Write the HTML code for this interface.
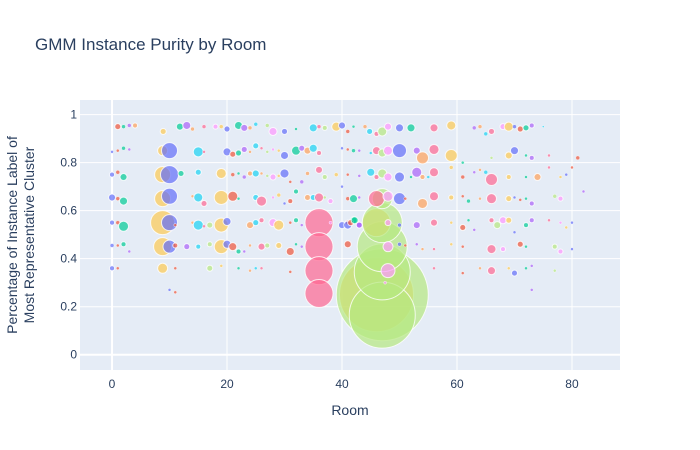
<!DOCTYPE html>
<html><head><meta charset="utf-8"><style>
body{margin:0;background:#fff;}
svg{display:block;font-family:"Liberation Sans",Arial,sans-serif;}
</style></head><body>
<svg id="chart" width="700" height="450">
<rect x="0" y="0" width="700" height="450" fill="#fff"/>
<rect x="80" y="100" width="540" height="270" fill="#E5ECF6"/>
<g id="grid"></g>
<g id="marks"></g>
<g id="ticks"></g>
<text x="35" y="50" font-size="17" fill="#2a3f5f">GMM Instance Purity by Room</text>
<text x="350" y="415" font-size="14" fill="#2a3f5f" text-anchor="middle">Room</text>
<text transform="translate(17,235) rotate(-90)" font-size="14" fill="#2a3f5f" text-anchor="middle"><tspan x="0" dy="0">Percentage of Instance Label of</tspan><tspan x="0" dy="17">Most Representative Cluster</tspan></text>
</svg>
<script>
const xTicks=[0,20,40,60,80];
const yTicks=[0,0.2,0.4,0.6,0.8,1];
const yTickLabels=["0","0.2","0.4","0.6","0.8","1"];
const palette=["#636efa","#EF553B","#00cc96","#ab63fa","#FFA15A","#19d3f3","#FF6692","#B6E880","#FF97FF","#FECB52"];
// [room, purity, markerDiameter, colorIndex]
const points=[
[46,0.25,74,9],[47,0.25,92,7],[47,0.165,66,7],[47,0.345,56,7],[47,0.45,50,7],[46,0.55,28,9],[47,0.55,40,7],[47,0.65,20,7],
[36,0.55,28,6],[36,0.45,28,6],[36,0.35,28,6],[36,0.255,28,6],
[8.8,0.55,24,9],[8.8,0.45,18,9],[8.8,0.65,16,9],[8.8,0.75,16,9],[8.8,0.36,10,9],[8.8,0.85,10,9],
[10,0.85,16,0],[10,0.75,18,0],[10,0.66,16,0],[10,0.55,16,0],[10,0.45,13,0],
[1,0.95,6,1],[2,0.95,4,2],[3,0.955,4,3],[4,0.955,5,4],[8.9,0.93,6,9],[11.8,0.95,7,2],[13,0.955,8,3],[14,0.94,4,4],[16,0.95,4,6],[18,0.95,5,8],[19,0.95,4,9],[20,0.94,6,0],[22,0.955,8,2],[23,0.945,7,3],[24,0.945,4,4],[25,0.96,4,5],[27,0.955,4,7],[28,0.93,8,8],[30,0.93,6,0],[32,0.94,3,2],[35,0.945,8,5],[36,0.95,4,6],[37,0.945,5,7],[39,0.95,9,9],[40,0.955,7,0],[41,0.93,4,1],
[42,0.95,3,2],[44,0.95,4,4],[44.8,0.93,6,5],[46,0.92,5,6],[47,0.93,9,7],[48,0.95,7,8],[50,0.945,8,0],[52,0.945,8,2],[56,0.945,8,6],[59,0.955,9,9],[63,0.945,4,3],[64,0.95,4,4],[65,0.92,4,5],[66,0.93,6,6],[68,0.95,6,8],[69,0.95,9,9],[70,0.95,4,0],[71,0.94,6,1],[72,0.945,6,2],[73,0.955,5,3],[75,0.95,2,5],
[0,0.845,3,0],[1,0.85,3,1],[2,0.86,4,2],[3,0.855,3,3],[15,0.845,10,5],[16,0.845,3,6],[20,0.845,8,0],[21,0.835,6,1],[22,0.84,6,2],[23,0.855,6,3],[24,0.845,3,4],[25,0.87,6,5],[26,0.86,3,6],[27,0.845,3,7],[28,0.855,3,8],[29,0.85,3,9],[30,0.83,8,0],[32,0.85,9,2],[33,0.86,6,3],[34,0.85,7,4],[35,0.86,8,5],[36,0.84,5,6],[40,0.86,3,0],[41,0.855,3,1],[42,0.85,4,2],
[43,0.85,3,3],[45,0.84,3,5],[46,0.85,8,6],[47,0.84,8,7],[48,0.85,9,8],[50,0.85,14,0],[53,0.85,7,3],[54,0.82,12,4],[56,0.855,10,6],[59,0.83,12,9],[61,0.8,3,2],[66,0.82,3,7],[69,0.83,7,9],[70,0.85,8,0],[72,0.83,3,2],[73,0.82,5,3],[76,0.83,3,6],[81,0.82,4,1],
[0,0.75,5,0],[1,0.76,4,1],[2,0.74,7,2],[12,0.755,6,2],[15,0.76,6,5],[19,0.755,10,9],[21,0.75,4,1],[22,0.755,3,2],[23,0.74,4,3],[24,0.755,5,4],[25,0.755,7,5],[26,0.755,3,4],[27,0.745,3,7],[28,0.74,6,8],[29,0.745,3,9],[30,0.755,9,0],[31,0.72,3,1],[33,0.72,4,3],[34,0.755,4,4],[36,0.77,7,6],[37,0.74,5,7],[39,0.75,4,9],[41,0.75,3,1],[43,0.745,3,3],
[45,0.76,8,5],[46,0.74,5,6],[47,0.755,9,7],[48,0.74,8,8],[50,0.74,10,0],[52,0.74,3,2],[53,0.76,10,3],[54,0.74,5,4],[55,0.74,3,5],[56,0.76,9,6],[59,0.78,4,9],[61,0.74,4,1],[63,0.76,3,3],[64,0.77,3,4],[65,0.76,4,5],[66,0.73,12,6],[69,0.74,5,9],[72,0.74,3,2],[74,0.74,7,4],[76,0.78,3,6],[78,0.74,3,9],[79,0.75,3,0],[80,0.78,3,1],
[0,0.655,7,0],[1,0.65,4,1],[2,0.64,8,2],[14,0.66,3,4],[15,0.655,9,5],[16,0.63,6,6],[19,0.655,14,9],[21,0.66,10,1],[22,0.65,3,2],[25,0.655,6,5],[26,0.64,10,6],[28,0.655,3,8],[29,0.665,4,9],[30,0.63,3,0],[31,0.64,5,1],[32,0.68,5,2],[34,0.655,6,4],[35,0.655,6,5],[36,0.655,9,6],[37,0.655,3,7],[38,0.64,5,8],[40,0.7,3,0],[41,0.65,4,1],[42,0.65,8,2],
[43,0.655,3,3],[46,0.65,16,6],[48,0.66,10,8],[50,0.65,12,0],[51,0.65,3,1],[54,0.63,10,4],[56,0.66,9,6],[59,0.655,5,9],[61,0.66,3,1],[62,0.64,4,2],[64,0.65,3,4],[66,0.65,10,6],[69,0.65,6,9],[70,0.655,3,0],[71,0.645,3,1],[72,0.65,3,2],[73,0.63,5,3],[77,0.66,4,7],[78,0.65,5,8],[82,0.68,3,3],
[0,0.55,5,0],[1,0.55,4,1],[2,0.535,10,2],[11,0.54,3,1],[14,0.55,3,4],[15,0.54,10,5],[16,0.535,3,6],[17,0.54,6,7],[19,0.54,14,9],[20,0.555,8,0],[24,0.54,7,4],[25,0.55,6,5],[26,0.56,5,6],[28,0.55,8,8],[29,0.54,10,9],[31,0.55,3,1],[32,0.56,5,2],[33,0.54,3,3],[38,0.55,3,8],[40,0.54,7,0],[41,0.55,5,1],[42,0.56,7,2],[43,0.54,6,3],
[41,0.54,8,0],[41.5,0.55,6,1],[42.2,0.56,7,2],[43,0.54,6,3],[48,0.55,6,8],[50,0.54,4,0],[53,0.54,7,3],[56,0.55,7,6],[59,0.55,3,9],[61,0.53,6,1],[62,0.56,3,2],[63,0.52,3,3],[66,0.56,5,6],[67,0.54,7,7],[68,0.56,7,8],[69,0.56,6,9],[70,0.51,3,0],[72,0.54,5,2],[73,0.56,5,3],[76,0.56,3,6],[78,0.55,3,8],[79,0.53,3,9],[80,0.55,3,0],
[0,0.455,4,0],[1,0.455,3,1],[2,0.46,5,2],[3,0.43,3,3],[11,0.455,5,1],[13,0.45,6,3],[15,0.45,5,5],[17,0.46,5,7],[19,0.45,14,9],[20,0.46,8,0],[21,0.45,8,1],[22,0.43,5,2],[23,0.43,3,3],[24,0.455,3,4],[26,0.45,7,6],[27,0.455,5,7],[29,0.455,6,9],[31,0.43,8,1],[32,0.46,3,2],[33,0.45,3,3],
[41,0.46,7,1],[48,0.45,10,8],[50,0.46,4,0],[51,0.455,3,1],[53,0.46,3,3],[54,0.44,3,4],[56,0.44,3,6],[59,0.46,3,9],[61,0.45,3,1],[66,0.44,9,6],[68,0.44,5,8],[71,0.46,6,1],[72,0.45,3,2],[77,0.45,5,7],[78,0.43,5,8],[80,0.44,3,0],
[0,0.36,5,0],[1,0.36,3,1],[11,0.36,3,1],[17,0.36,6,7],[19,0.37,3,9],[22,0.36,3,2],[24,0.35,3,4],[25,0.36,3,5],[26,0.36,3,6],[31,0.345,3,1],
[48,0.35,14,8],[56,0.36,3,6],[61,0.34,3,1],[64,0.36,3,4],[66,0.35,8,6],[69,0.36,3,9],[70,0.34,6,0],[72,0.36,3,2],[73,0.37,3,3],[77,0.35,3,7],
[10,0.27,3,0],[11,0.26,3,1],[47.5,0.3,3,8],[73,0.27,3,3]
];
const X0=80,X1=620,Y0=370,Y1=100;
const xMin=-5.57,xMax=88.35,yMin=-0.0637,yMax=1.061;
function sx(v){return X0+(v-xMin)/(xMax-xMin)*(X1-X0);}
function sy(v){return Y0-(v-yMin)/(yMax-yMin)*(Y0-Y1);}
const NS="http://www.w3.org/2000/svg";
const grid=document.getElementById('grid'),marks=document.getElementById('marks'),ticks=document.getElementById('ticks');
xTicks.forEach(function(t){
  const l=document.createElementNS(NS,'line');
  l.setAttribute('x1',sx(t));l.setAttribute('x2',sx(t));l.setAttribute('y1',Y1);l.setAttribute('y2',Y0);
  l.setAttribute('stroke','#fff');l.setAttribute('stroke-width',t===0?2:1);
  
  
  grid.appendChild(l);
  const tx=document.createElementNS(NS,'text');
  tx.setAttribute('x',sx(t));tx.setAttribute('y',Y0+18);tx.setAttribute('text-anchor','middle');
  tx.setAttribute('font-size','12');tx.setAttribute('fill','#2a3f5f');tx.textContent=String(t);
  
  
  ticks.appendChild(tx);
});
yTicks.forEach(function(t,i){
  const l=document.createElementNS(NS,'line');
  l.setAttribute('x1',X0);l.setAttribute('x2',X1);l.setAttribute('y1',sy(t));l.setAttribute('y2',sy(t));
  l.setAttribute('stroke','#fff');l.setAttribute('stroke-width',t===0?2:1);
  
  
  grid.appendChild(l);
  const tx=document.createElementNS(NS,'text');
  tx.setAttribute('x',X0-3);tx.setAttribute('y',sy(t)+4);tx.setAttribute('text-anchor','end');
  tx.setAttribute('font-size','12');tx.setAttribute('fill','#2a3f5f');tx.textContent=yTickLabels[i];
  
  
  ticks.appendChild(tx);
});
points.forEach(function(p){
  const c=document.createElementNS(NS,'circle');
  c.setAttribute('cx',sx(p[0]));c.setAttribute('cy',sy(p[1]));c.setAttribute('r',p[2]/2);
  c.setAttribute('fill',palette[p[3]]);c.setAttribute('fill-opacity','0.7');
  c.setAttribute('stroke','#fff');c.setAttribute('stroke-width',p[2]>4?1:0.5);c.setAttribute('stroke-opacity','0.8');
  
  
  marks.appendChild(c);
});
</script>
</body></html>
